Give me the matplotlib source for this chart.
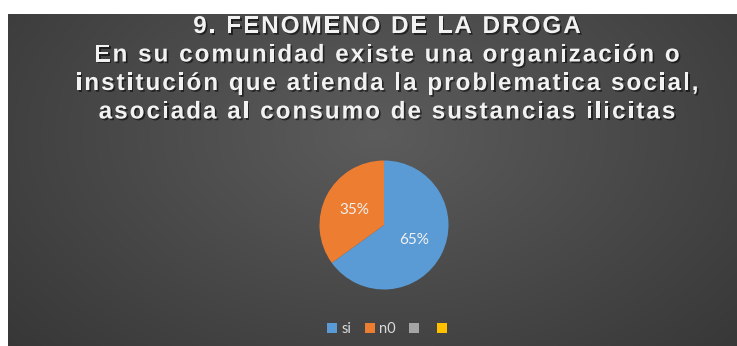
import numpy as np
import matplotlib
matplotlib.use("Agg")
import matplotlib.pyplot as plt
import matplotlib.patheffects as pe
from matplotlib.patches import Patch
from matplotlib.font_manager import FontProperties, findfont, get_font

W, H = 737, 346
DPI = 100

title_lines = [
    "9. FENOMENO DE LA DROGA",
    "En su comunidad existe una organización o",
    "institución que atienda la problematica social,",
    "asociada al consumo de sustancias ilicitas",
]
labels = ["si", "n0", "", ""]
values = [65, 35, 0, 0]
colors = ["#5B9BD5", "#ED7D31", "#A5A5A5", "#FFC000"]

fig = plt.figure(figsize=(W / DPI, H / DPI), dpi=DPI, facecolor="white")

# dark panel with a soft radial gradient
bg = fig.add_axes([8 / W, 0, (W - 8) / W, (H - 14) / H])
yy, xx = np.mgrid[0:332, 0:729]
r = np.hypot((xx - 370) / 520.0, (yy - 120) / 330.0)
shade = np.clip(0.36 - 0.15 * r, 0.2, 0.36)
bg.imshow(np.dstack([shade] * 3), aspect="auto", interpolation="bilinear")
bg.set_axis_off()

# title drawn char by char so the letter spacing can be widened
size = 17.5
fp = FontProperties(family="Liberation Sans", weight="bold", size=size)
ft = get_font(findfont(fp))
ft.set_size(size, DPI)
spacing = 2.0
shadow = [pe.withSimplePatchShadow(offset=(1.2, -1.2), shadow_rgbFace="black", alpha=0.55)]
for i, line in enumerate(title_lines):
    adv = [ft.load_char(ord(c)).linearHoriAdvance / 65536 for c in line]
    total = sum(adv) + spacing * (len(line) - 1)
    x = 387 - total / 2
    ybase = 33 + i * 28.5
    for c, a in zip(line, adv):
        fig.text(x / W, 1 - ybase / H, c, fontproperties=fp, color="#F2F2F2",
                 ha="left", va="baseline", path_effects=shadow)
        x += a + spacing

# pie
cx, cy, rad = 384, 225, 64.5
ax = fig.add_axes([(cx - rad) / W, (H - cy - rad) / H, 2 * rad / W, 2 * rad / H])
wedges, _, autotexts = ax.pie(
    values, colors=colors, startangle=90, counterclock=False,
    autopct=lambda p: f"{p:.0f}%" if p > 0 else "", pctdistance=0.52,
    wedgeprops=dict(linewidth=0),
    textprops=dict(color="#F2F2F2", fontsize=11, family="Lato"),
)
ax.set_xlim(-1, 1)
ax.set_ylim(-1, 1)
ax.set_axis_off()

handles = [Patch(facecolor=c, edgecolor="none") for c in colors]
fig.legend(handles, labels, loc="center", bbox_to_anchor=(389 / W, 1 - 329 / H),
           ncol=4, frameon=False, handlelength=0.7, handleheight=0.7,
           handletextpad=0.3, columnspacing=0.9,
           prop=dict(family="Lato", size=10.5), labelcolor="#D9D9D9")

fig.savefig("out.png", dpi=DPI, facecolor="white")
